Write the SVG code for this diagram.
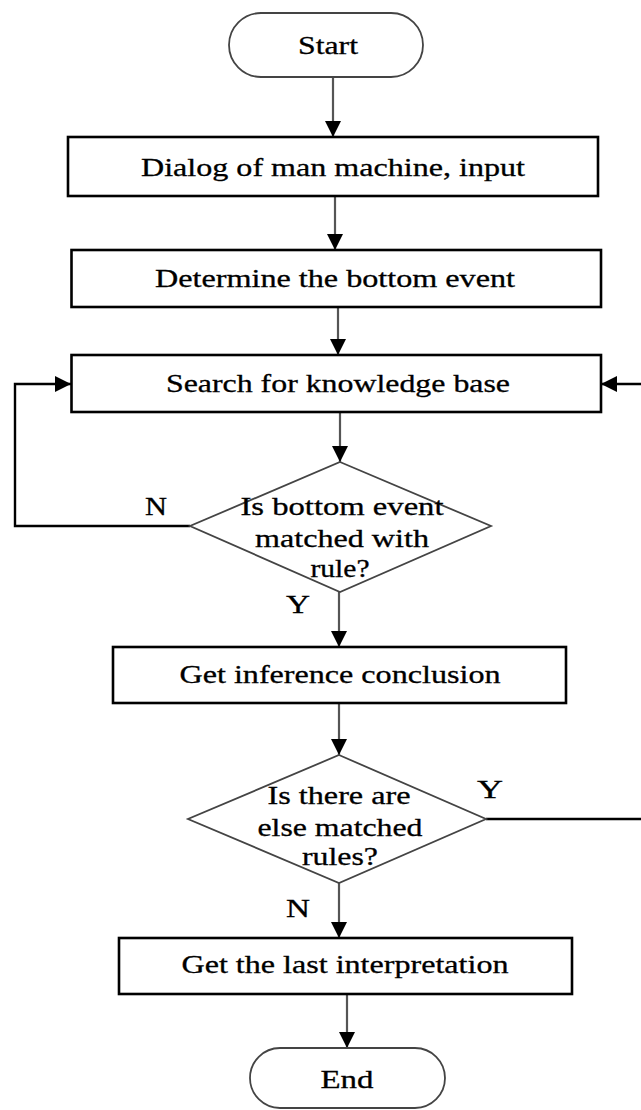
<svg xmlns="http://www.w3.org/2000/svg" width="641" height="1110" viewBox="0 0 641 1110">
<style>
.box{fill:#fff;stroke:#000;stroke-width:2.6}
.term{fill:#fff;stroke:#444;stroke-width:1.8}
.dia{fill:#fff;stroke:#444;stroke-width:1.8}
.t{font-family:"Liberation Serif","Times New Roman",serif;font-size:25px;fill:#000;text-anchor:middle;stroke:#000;stroke-width:0.3}
.v{fill:none;stroke:#555;stroke-width:2.2}
.h{fill:none;stroke:#000;stroke-width:2.4}
</style>
<defs>
<marker id="ah" markerUnits="userSpaceOnUse" markerWidth="16" markerHeight="16" refX="16" refY="8" orient="auto">
<path d="M0,0 L16,8 L0,16 Z" fill="#000"/>
</marker>
</defs>
<g id="connectors">
<path class="v" d="M333,77 V137" marker-end="url(#ah)"/>
<path class="v" d="M335,196 V250" marker-end="url(#ah)"/>
<path class="v" d="M338,307 V355" marker-end="url(#ah)"/>
<path class="v" d="M340,412 V462" marker-end="url(#ah)"/>
<path class="h" d="M190,526 H15 V384 H71" marker-end="url(#ah)"/>
<path class="v" d="M339,592 V647" marker-end="url(#ah)"/>
<path class="v" d="M339,703 V755" marker-end="url(#ah)"/>
<path class="h" d="M486,819 H646 V384 H601" marker-end="url(#ah)"/>
<path class="v" d="M339,883 V938" marker-end="url(#ah)"/>
<path class="v" d="M347,994 V1048" stroke-width="3.5" stroke="#888" marker-end="url(#ah)"/>
<text class="t" x="156" y="515" textLength="22" lengthAdjust="spacingAndGlyphs">N</text>
<text class="t" x="298" y="613" textLength="24" lengthAdjust="spacingAndGlyphs">Y</text>
<text class="t" x="490" y="798" textLength="26" lengthAdjust="spacingAndGlyphs">Y</text>
<text class="t" x="298" y="917" textLength="24" lengthAdjust="spacingAndGlyphs">N</text>
</g>
<g id="start">
<rect class="term" x="229" y="13" width="194" height="64" rx="32"/>
<text class="t" x="328" y="54" textLength="60" lengthAdjust="spacingAndGlyphs">Start</text>
</g>
<g id="dialog">
<rect class="box" x="68" y="137" width="530" height="59"/>
<text class="t" x="333" y="176" textLength="384" lengthAdjust="spacingAndGlyphs">Dialog of man machine, input</text>
</g>
<g id="determine">
<rect class="box" x="71.5" y="250" width="529.5" height="57"/>
<text class="t" x="335" y="287" textLength="360" lengthAdjust="spacingAndGlyphs">Determine the bottom event</text>
</g>
<g id="search">
<rect class="box" x="71.5" y="355" width="529.5" height="57"/>
<text class="t" x="338" y="392" textLength="344" lengthAdjust="spacingAndGlyphs">Search for knowledge base</text>
</g>
<g id="match">
<polygon class="dia" points="340,462 491,526 340,592 190,526"/>
<text class="t" x="342" y="515" textLength="203" lengthAdjust="spacingAndGlyphs">Is bottom event</text>
<text class="t" x="342" y="547" textLength="174" lengthAdjust="spacingAndGlyphs">matched with</text>
<text class="t" x="340" y="577" textLength="59" lengthAdjust="spacingAndGlyphs">rule?</text>
</g>
<g id="inference">
<rect class="box" x="113" y="647" width="453" height="56"/>
<text class="t" x="340" y="683" textLength="321" lengthAdjust="spacingAndGlyphs">Get inference conclusion</text>
</g>
<g id="else">
<polygon class="dia" points="339,755 486,819 339,883 188,819"/>
<text class="t" x="339" y="804" textLength="143" lengthAdjust="spacingAndGlyphs">Is there are</text>
<text class="t" x="340" y="836" textLength="165" lengthAdjust="spacingAndGlyphs">else matched</text>
<text class="t" x="340" y="865" textLength="76" lengthAdjust="spacingAndGlyphs">rules?</text>
</g>
<g id="last">
<rect class="box" x="119" y="938" width="453" height="56"/>
<text class="t" x="345" y="973" textLength="327" lengthAdjust="spacingAndGlyphs">Get the last interpretation</text>
</g>
<g id="end">
<rect class="term" x="250" y="1048" width="195" height="60" rx="30"/>
<text class="t" x="347" y="1088" textLength="53" lengthAdjust="spacingAndGlyphs">End</text>
</g>
</svg>
